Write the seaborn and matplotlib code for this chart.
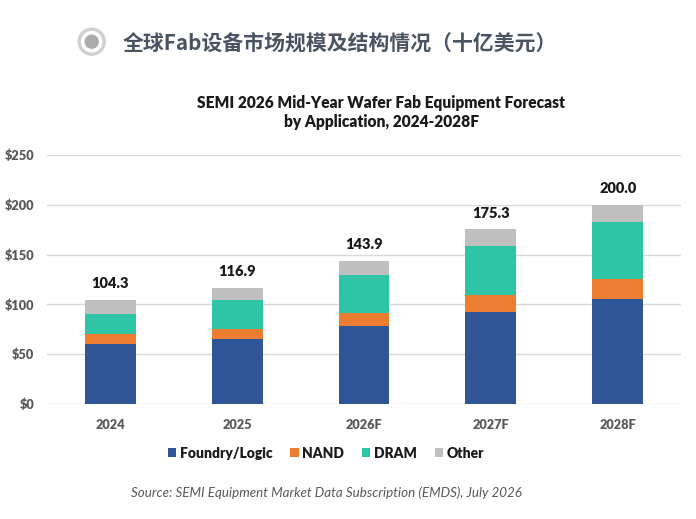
import matplotlib
matplotlib.use("Agg")
import matplotlib.pyplot as plt
import seaborn as sns
import pandas as pd
import numpy as np
from matplotlib.patches import Patch, Circle
from matplotlib.ticker import FuncFormatter

years = ["2024", "2025", "2026F", "2027F", "2028F"]
foundry = [60.5, 65.0, 78.0, 92.0, 105.0]
nand = [9.5, 10.7, 13.0, 17.7, 20.5]
dram = [20.0, 28.5, 39.0, 49.4, 57.0]
other = [14.3, 12.7, 13.9, 16.2, 17.5]
totals = [104.3, 116.9, 143.9, 175.3, 200.0]
series_names = ["Foundry/Logic", "NAND", "DRAM", "Other"]
colors = ["#2F5597", "#ED7D31", "#2EC4A6", "#BFBFBF"]

sns.set_theme(style="white")
plt.rcParams['font.family'] = ['Lato', 'Noto Sans CJK SC', 'DejaVu Sans']

df = pd.DataFrame({"year": years, "Foundry/Logic": foundry, "NAND": nand,
                   "DRAM": dram, "Other": other})
cum = df[series_names].cumsum(axis=1)

fig = plt.figure(figsize=(6.96, 5.19), dpi=100)
ax = fig.add_axes([0.0675, 0.2216, 0.911, 0.4798])

for name, col in reversed(list(zip(series_names, colors))):
    sns.barplot(x=df["year"], y=cum[name], color=col, width=0.4, saturation=1,
                linewidth=0, ax=ax, order=years)

ax.bar_label(ax.containers[0], labels=[f"{t:.1f}" for t in totals], padding=7,
             fontsize=10.5, fontweight="heavy", color="#1a1a1a")

ax.set_ylim(0, 250)
ax.set_xlim(-0.5, 4.5)
ax.set_yticks([0, 50, 100, 150, 200, 250])
ax.yaxis.set_major_formatter(FuncFormatter(lambda v, p: f"${v:.0f}"))
ax.grid(axis="y", color="#D9D9D9", linewidth=1)
ax.set_axisbelow(True)
for s in ax.spines.values():
    s.set_visible(False)
ax.tick_params(axis="both", length=0, labelsize=9.2, labelcolor="#595959")
ax.tick_params(axis="y", pad=9)
ax.tick_params(axis="x", pad=11)
for lbl in ax.get_xticklabels() + ax.get_yticklabels():
    lbl.set_fontweight("heavy")
ax.set_xlabel("")
ax.set_ylabel("")

# header icon
fig.add_artist(Circle((0.917, 4.773), 0.125, transform=fig.dpi_scale_trans,
                      facecolor="none", edgecolor="#CFCFCF", linewidth=2.4))
fig.add_artist(Circle((0.917, 4.773), 0.072, transform=fig.dpi_scale_trans,
                      facecolor="#ABABAB", edgecolor="none"))
fig.text(123/696, 1 - 43/519, "全球Fab设备市场规模及结构情况（十亿美元）",
         family=['Noto Sans CJK SC', 'DejaVu Sans'], fontsize=15, color="#4A5361",
         fontweight="bold", ha="left", va="center")

fig.text(381/696, 1 - 103/519, "SEMI 2026 Mid-Year Wafer Fab Equipment Forecast",
         fontsize=11.2, fontweight="heavy", color="#1a1a1a", ha="center", va="center")
fig.text(381/696, 1 - 122/519, "by Application, 2024-2028F",
         fontsize=11.2, fontweight="heavy", color="#1a1a1a", ha="center", va="center")

handles = [Patch(facecolor=c, edgecolor="none", label=n) for n, c in zip(series_names, colors)]
leg = fig.legend(handles=handles, loc="center", bbox_to_anchor=(326/696, 1 - 453/519),
                 ncol=4, frameon=False, handlelength=0.6, handleheight=0.6,
                 handletextpad=0.25, columnspacing=1.3,
                 prop={"weight": "heavy", "size": 10})
for t in leg.get_texts():
    t.set_color("#1a1a1a")

fig.text(326/696, 1 - 493/519, "Source: SEMI Equipment Market Data Subscription (EMDS), July 2026",
         fontsize=9.6, style="italic", color="#595959", ha="center", va="center")

fig.savefig("out.png", dpi=100)
